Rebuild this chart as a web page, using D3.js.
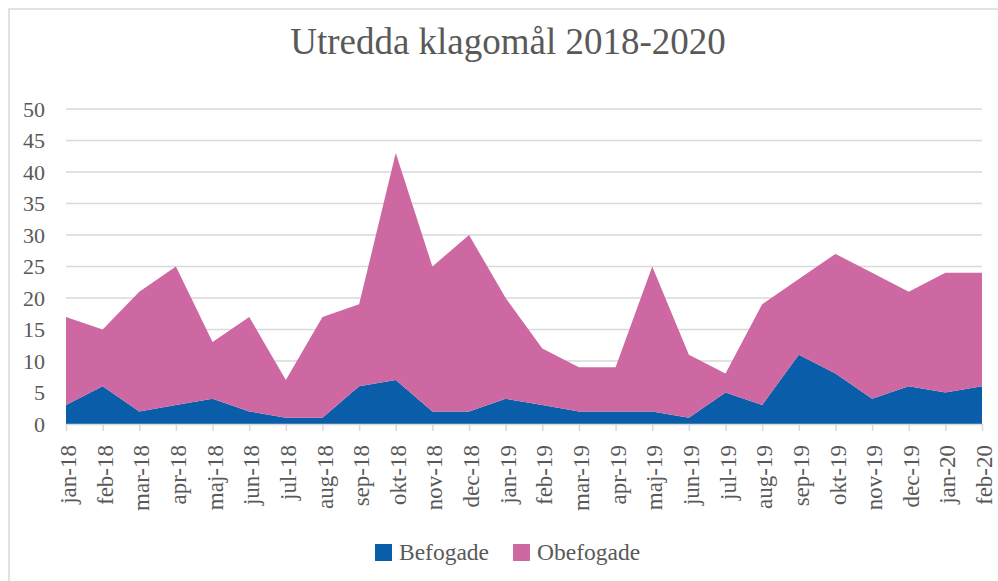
<!DOCTYPE html>
<html><head><meta charset="utf-8">
<script src="https://cdn.jsdelivr.net/npm/d3@7"></script>
<style>body{margin:0;background:#fff}svg{display:block}</style>
</head><body>
<script>
const categories = ["jan-18","feb-18","mar-18","apr-18","maj-18","jun-18","jul-18","aug-18","sep-18","okt-18","nov-18","dec-18","jan-19","feb-19","mar-19","apr-19","maj-19","jun-19","jul-19","aug-19","sep-19","okt-19","nov-19","dec-19","jan-20","feb-20"];
const befogade  = [3,6,2,3,4,2,1,1,6,7,2,2,4,3,2,2,2,1,5,3,11,8,4,6,5,6];
const obefogade = [14,9,19,22,9,15,6,16,13,36,23,28,16,9,7,7,23,10,3,16,12,19,20,15,19,18];
const seriesNames = ["Befogade","Obefogade"];
const seriesColors = ["#0a5da8","#cd68a3"];
const yTicks = [0,5,10,15,20,25,30,35,40,45,50];
const titleText = "Utredda klagomål 2018-2020";

const W = 998, H = 581;
const svg = d3.select("body").append("svg").attr("width", W).attr("height", H);
const font = "'Liberation Serif','Times New Roman',serif";
const textColor = "#595959";

svg.append("rect").attr("x",9).attr("y",9).attr("width",W).attr("height",H)
  .attr("fill","#fff").attr("stroke","#d9d9d9").attr("stroke-width",1.5);

const x = d3.scalePoint().domain(categories).range([66, 982]);
const y = d3.scaleLinear().domain([0,50]).range([424,109]);

// gridlines
svg.append("g").selectAll("line").data(yTicks.filter(d=>d>0)).join("line")
  .attr("x1",66).attr("x2",982).attr("y1",d=>y(d)).attr("y2",d=>y(d))
  .attr("stroke","#d9d9d9").attr("stroke-width",1.5);

const data = categories.map((c,i)=>({cat:c, Befogade:befogade[i], Obefogade:obefogade[i]}));
const stack = d3.stack().keys(seriesNames)(data);
const area = d3.area().x(d=>x(d.data.cat)).y0(d=>y(d[0])).y1(d=>y(d[1]));
svg.append("g").selectAll("path").data(stack).join("path")
  .attr("d", area).attr("fill",(d,i)=>seriesColors[i]);

// x axis
const xAxis = svg.append("g").attr("transform","translate(0,424)")
  .call(d3.axisBottom(x).tickSize(7).tickSizeOuter(0));
xAxis.select(".domain").attr("stroke","#d9d9d9").attr("stroke-width",1.5);
xAxis.selectAll(".tick line").attr("stroke","#d9d9d9").attr("stroke-width",1.5);
xAxis.selectAll(".tick text")
  .attr("font-family",font).attr("font-size",23).attr("fill",textColor)
  .attr("transform","rotate(-90)")
  .attr("text-anchor","end")
  .attr("x",-21).attr("y",2).attr("dy","0.33em");

// y axis labels
const yAxis = svg.append("g").attr("transform","translate(66,0)")
  .call(d3.axisLeft(y).tickValues(yTicks).tickSize(0).tickPadding(21));
yAxis.select(".domain").remove();
yAxis.selectAll(".tick text").attr("font-family",font).attr("font-size",22).attr("fill",textColor);

// title
svg.append("text").attr("x",508).attr("y",54).attr("text-anchor","middle")
  .attr("font-family",font).attr("font-size",37).attr("fill",textColor).text(titleText);

// legend
const legend = svg.append("g");
const lx = [375, 513];
seriesNames.forEach((n,i)=>{
  legend.append("rect").attr("x",lx[i]).attr("y",544).attr("width",17).attr("height",17).attr("fill",seriesColors[i]);
  legend.append("text").attr("x",lx[i]+24).attr("y",560).attr("font-family",font)
    .attr("font-size",23.5).attr("fill",textColor).text(n);
});
</script>
</body></html>
